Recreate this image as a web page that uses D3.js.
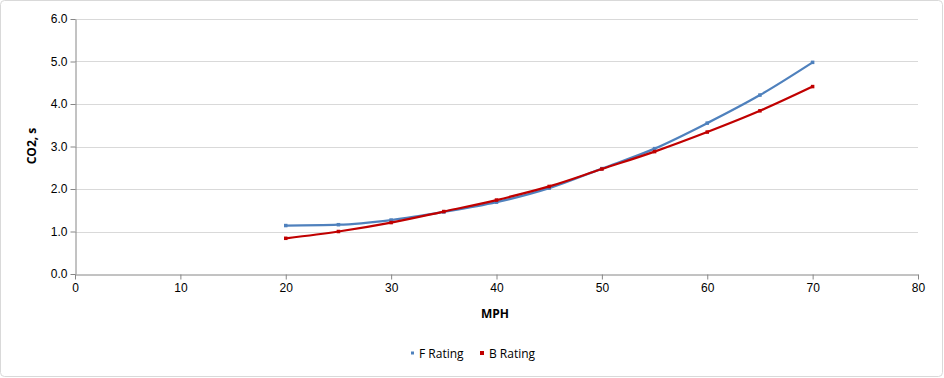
<!DOCTYPE html>
<html>
<head>
<meta charset="utf-8">
<script src="https://cdn.jsdelivr.net/npm/d3@7"></script>
<style>
  body { margin: 0; background: #fff; }
  svg { display: block; font-family: "Open Sans", "Noto Sans", sans-serif; }
</style>
</head>
<body>
<svg width="944" height="378"></svg>
<script>
// speeds (MPH) and CO2 values for the two ratings
const mph = [20, 25, 30, 35, 40, 45, 50, 55, 60, 65, 70];
const fRating = [1.14, 1.16, 1.27, 1.46, 1.69, 2.02, 2.48, 2.95, 3.55, 4.21, 4.98];
const bRating = [0.84, 1.00, 1.21, 1.47, 1.74, 2.06, 2.47, 2.88, 3.34, 3.84, 4.41];
const xTicks = [0, 10, 20, 30, 40, 50, 60, 70, 80];
const yTicks = [0, 1, 2, 3, 4, 5, 6];

const series = [
    { name: "F Rating", values: fRating, color: "#4f81bd" },
    { name: "B Rating", values: bRating, color: "#c00000" }
];

const svg = d3.select("svg");

// outer chart border
svg.append("rect")
    .attr("x", 0.5).attr("y", 0.5)
    .attr("width", 942).attr("height", 376)
    .attr("rx", 4)
    .style("fill", "#fff")
    .style("stroke", "#d9d9d9");

const x = d3.scaleLinear().domain([0, 80]).range([75, 918]);
const y = d3.scaleLinear().domain([0, 6]).range([274, 19]);

// gridlines
svg.append("g")
    .selectAll("line")
    .data(yTicks.filter(d => d > 0))
    .enter().append("line")
    .attr("x1", x(0)).attr("x2", x(80))
    .attr("y1", d => Math.round(y(d)) + 0.5)
    .attr("y2", d => Math.round(y(d)) + 0.5)
    .style("stroke", "#d9d9d9");

// axes
const yAxis = svg.append("g")
    .attr("transform", `translate(${x(0) + 0.5},0)`)
    .call(d3.axisLeft(y).tickValues(yTicks).tickFormat(d3.format(".1f")).tickSize(5).tickSizeOuter(0));

const xAxis = svg.append("g")
    .attr("transform", `translate(0,${y(0) + 0.5})`)
    .call(d3.axisBottom(x).tickValues(xTicks).tickSize(5).tickSizeOuter(0));

[xAxis, yAxis].forEach(a => {
    a.select(".domain").style("stroke", "#868686");
    a.selectAll(".tick line").style("stroke", "#868686");
    a.selectAll("text").style("font-size", "12px").style("fill", "#000");
});
yAxis.selectAll("text").attr("x", -8);
xAxis.selectAll("text").attr("y", 9);

// axis titles
svg.append("text")
    .attr("transform", "translate(36,146) rotate(-90)")
    .attr("text-anchor", "middle")
    .style("font-size", "12px")
    .style("font-weight", "bold")
    .text("CO2, s");

svg.append("text")
    .attr("x", 495).attr("y", 318)
    .attr("text-anchor", "middle")
    .style("font-size", "12px")
    .style("font-weight", "bold")
    .text("MPH");

// lines
const line = d3.line()
    .x((d, i) => x(mph[i]))
    .y(d => y(d))
    .curve(d3.curveMonotoneX);

series.forEach(s => {
    svg.append("path")
        .datum(s.values)
        .attr("d", line)
        .style("fill", "none")
        .style("stroke", s.color)
        .style("stroke-width", 2.25);

    svg.selectAll(null)
        .data(s.values)
        .enter().append("rect")
        .attr("x", (d, i) => x(mph[i]) - 1.75)
        .attr("y", d => y(d) - 1.75)
        .attr("width", 3.5).attr("height", 3.5)
        .style("fill", s.color);
});

// legend
const legend = svg.append("g").attr("transform", "translate(410,353)");
const legendX = [0, 70];
series.forEach((s, i) => {
    const g = legend.append("g").attr("transform", `translate(${legendX[i]},0)`);
    g.append("rect")
        .attr("x", i === 0 ? 1 : 0).attr("y", i === 0 ? -1.5 : -2)
        .attr("width", i === 0 ? 3 : 4).attr("height", i === 0 ? 3 : 4)
        .style("fill", s.color);
    g.append("text")
        .attr("x", 9).attr("y", 4.5)
        .style("font-size", "12px")
        .text(s.name);
});
</script>
</body>
</html>
